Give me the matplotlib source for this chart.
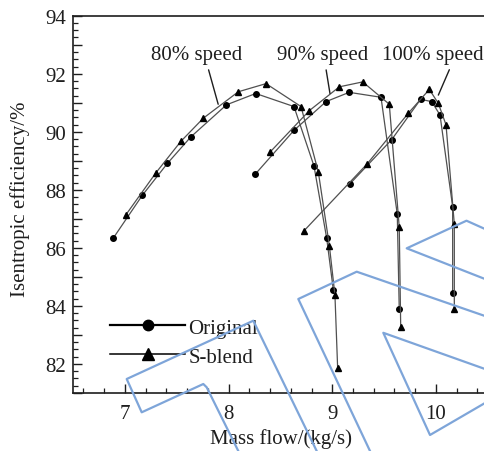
import matplotlib
matplotlib.use("Agg")
import matplotlib.pyplot as plt
from matplotlib.lines import Line2D
from matplotlib.ticker import MultipleLocator, FuncFormatter

plt.rcParams['font.family'] = ['Liberation Serif', 'DejaVu Serif']

# mass flow (kg/s) and isentropic efficiency (%) for each speed line
orig_80_x = [6.889, 7.168, 7.410, 7.635, 7.980, 8.262, 8.631, 8.824, 8.946, 9.010]
orig_80_y = [86.34, 87.81, 88.91, 89.82, 90.93, 91.32, 90.87, 88.82, 86.34, 84.56]
blend_80_x = [7.008, 7.300, 7.540, 7.757, 8.094, 8.361, 8.699, 8.866, 8.972, 9.026, 9.052]
blend_80_y = [87.13, 88.59, 89.67, 90.47, 91.38, 91.66, 90.87, 88.61, 86.08, 84.37, 81.86]

orig_90_x = [8.255, 8.631, 8.940, 9.163, 9.470, 9.627, 9.646]
orig_90_y = [88.53, 90.05, 91.04, 91.36, 91.19, 87.16, 83.88]
blend_90_x = [8.400, 8.779, 9.068, 9.294, 9.550, 9.646, 9.660]
blend_90_y = [89.30, 90.73, 91.55, 91.72, 90.95, 86.71, 83.29]

orig_100_x = [9.171, 9.573, 9.852, 9.959, 10.039, 10.161, 10.161]
orig_100_y = [88.21, 89.73, 91.12, 91.04, 90.58, 87.42, 84.43]
blend_100_x = [8.728, 9.338, 9.733, 9.936, 10.023, 10.097, 10.177, 10.177]
blend_100_y = [86.59, 88.90, 90.64, 91.46, 90.98, 90.24, 86.82, 83.88]

speed_labels = ["80% speed", "90% speed", "100% speed"]
label_pos = [(7.696, 92.65), (8.906, 92.65), (9.965, 92.65)]
label_tip = [(7.90, 90.95), (8.978, 91.32), (10.023, 91.265)]
label_relpos = [(0.61, 0.0), (0.53, 0.0), (0.69, 0.0)]

ink = '#1e1e1e'
line_col = '#505050'

fig = plt.figure(figsize=(4.85, 4.52), dpi=100)
ax = fig.add_axes([0.1505, 0.1283, 0.8553, 0.8347])

for xs, ys in [(orig_80_x, orig_80_y), (orig_90_x, orig_90_y), (orig_100_x, orig_100_y)]:
    ax.plot(xs, ys, color=line_col, lw=0.9, marker='o', ms=4.0,
            mfc='black', mec='black', zorder=3)
for xs, ys in [(blend_80_x, blend_80_y), (blend_90_x, blend_90_y), (blend_100_x, blend_100_y)]:
    ax.plot(xs, ys, color=line_col, lw=0.9, marker='^', ms=4.8,
            mfc='black', mec='black', zorder=3)

for txt, pos, tip, rp in zip(speed_labels, label_pos, label_tip, label_relpos):
    ax.annotate(txt, xy=tip, xytext=pos, ha='center', va='center',
                fontsize=15, color=ink,
                arrowprops=dict(arrowstyle='-', color=ink, lw=1.0,
                                relpos=rp, shrinkA=2, shrinkB=0))

ax.set_xlim(6.5, 10.5)
ax.set_ylim(81, 94)

ax.xaxis.set_major_locator(MultipleLocator(1))
ax.xaxis.set_minor_locator(MultipleLocator(0.2))
ax.yaxis.set_major_locator(MultipleLocator(1))
ax.yaxis.set_minor_locator(MultipleLocator(0.25))
ax.yaxis.set_major_formatter(FuncFormatter(
    lambda v, p: f"{v:.0f}" if round(v) % 2 == 0 else ""))

ax.tick_params(which='both', direction='in', colors=ink, labelsize=15,
               top=False, right=False)
ax.tick_params(which='major', length=6.5, width=1.0)
ax.tick_params(which='minor', length=3.5, width=0.9)
ax.tick_params(axis='x', pad=8)
ax.tick_params(axis='y', pad=5)

for side in ['left', 'bottom', 'top']:
    ax.spines[side].set_linewidth(1.2)
    ax.spines[side].set_color(ink)
ax.spines['right'].set_visible(False)

ax.set_xlabel("Mass flow/(kg/s)", fontsize=15, color=ink)
ax.set_ylabel("Isentropic efficiency/%", fontsize=15, color=ink)
ax.xaxis.set_label_coords(0.501, -0.093)
ax.yaxis.set_label_coords(-0.104, 0.515)

handles = [
    Line2D([], [], color='black', lw=1.6, marker='o', ms=7.5),
    Line2D([], [], color='black', lw=1.1, marker='^', ms=8),
]
ax.legend(handles, ["Original", "S-blend"], loc='lower left',
          bbox_to_anchor=(0.07, 0.048), frameon=False, fontsize=15,
          handlelength=3.6, handletextpad=0.15, labelspacing=0.45,
          borderaxespad=0, labelcolor=ink)

# light blue outline strokes over the plot, in pixel coordinates
W, H = 485, 452
strokes = [
    [(238.3, 452), (206.7, 388.3), (203.3, 385), (141.7, 413.3),
     (126.7, 380), (253.3, 321.7), (316.7, 452)],
    [(370, 452), (298.3, 300), (356.7, 272.7), (485, 317)],
    [(485, 404), (430, 436), (383.3, 333.8), (485, 370)],
    [(485, 280), (406.7, 249.3), (466.5, 221.7), (485, 230)],
]
for pts in strokes:
    fig.add_artist(Line2D([p[0] / W for p in pts], [1 - p[1] / H for p in pts],
                          transform=fig.transFigure, color='#7ea5d9',
                          lw=1.6, zorder=10))

fig.savefig("out.png", dpi=100)
